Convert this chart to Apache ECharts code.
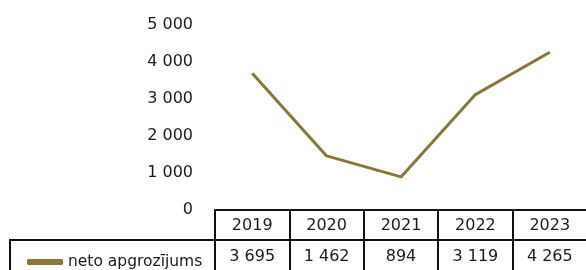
<!DOCTYPE html>
<html>
<head>
<meta charset="utf-8">
<script src="https://cdn.jsdelivr.net/npm/echarts@6/dist/echarts.min.js"></script>
<style>
  html, body { margin: 0; padding: 0; background: #fff; }
  #chart { width: 586px; height: 270px; }
</style>
</head>
<body>
<div id="chart"></div>
<script>
const years = ['2019', '2020', '2021', '2022', '2023']
const netoApgrozijums = [3695, 1462, 894, 3119, 4265]
const seriesName = 'neto apgrozījums'

const lineColor = '#8b763a'
const textColor = '#1a1a1a'
const font = 'DejaVu Sans'

function fmt (v) {
	return String(v).replace(/\B(?=(\d{3})+(?!\d))/g, ' ')
}

let myChart = echarts.init(document.getElementById('chart'))
let option = {
	animation: false,
	grid: { left: 215, width: 372, top: 25, bottom: 60, outerBoundsMode: 'none', containLabel: false },
	legend: {
		data: [{ name: seriesName, icon: 'roundRect' }],
		left: 22,
		top: 249,
		itemWidth: 36,
		itemHeight: 6,
		itemGap: 6,
		textStyle: { color: textColor, fontSize: 15.5, fontFamily: font }
	},
	xAxis: [{
		type: 'category',
		data: years,
		position: 'bottom',
		axisLine: { show: true, lineStyle: { color: '#111', width: 2 } },
		axisTick: { show: true, interval: 0, length: 62, lineStyle: { color: '#111', width: 2 } },
		axisLabel: { color: textColor, fontSize: 16, fontFamily: font, margin: 8, interval: 0 }
	}, {
		type: 'category',
		data: netoApgrozijums.map(fmt),
		position: 'bottom',
		offset: 30,
		axisLine: { show: true, lineStyle: { color: '#111', width: 2 } },
		axisTick: { show: false },
		axisLabel: { color: textColor, fontSize: 16, fontFamily: font, margin: 9, interval: 0 }
	}],
	yAxis: {
		type: 'value',
		min: 0,
		max: 5000,
		interval: 1000,
		axisLine: { show: false },
		axisTick: { show: false },
		splitLine: { show: false },
		axisLabel: { color: textColor, fontSize: 16, fontFamily: font, margin: 22, formatter: fmt }
	},
	series: [{
		name: seriesName,
		type: 'line',
		data: netoApgrozijums,
		showSymbol: false,
		lineStyle: { color: lineColor, width: 3 },
		itemStyle: { color: lineColor }
	}],
	graphic: [{
		type: 'polyline',
		shape: { points: [[215, 240], [10, 240], [10, 272]] },
		style: { stroke: '#111', lineWidth: 2, fill: null }
	}]
}
myChart.setOption(option)
</script>
</body>
</html>
